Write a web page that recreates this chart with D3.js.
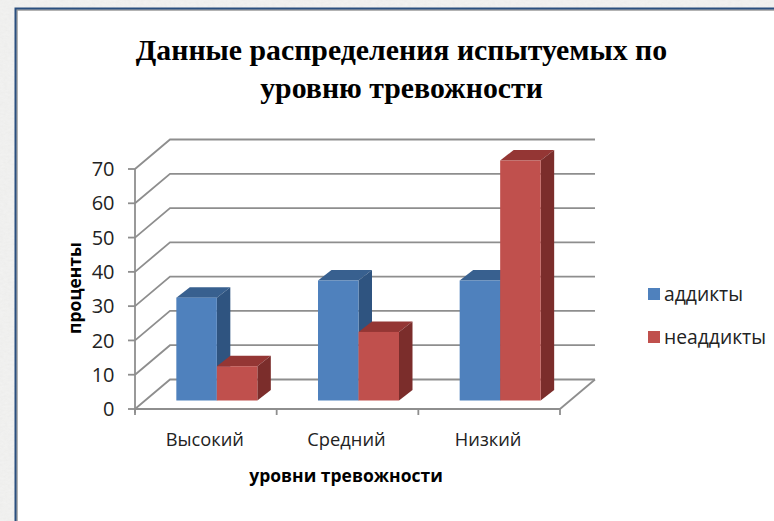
<!DOCTYPE html>
<html>
<head>
    <meta charset="utf-8">
    <script src="https://cdn.jsdelivr.net/npm/d3@7"></script>
    <style>
        html, body { margin: 0; padding: 0; background: #f1f1f0; overflow: hidden; }
        text { fill: #222; }
    </style>
</head>
<body>
<svg id="chart" width="774" height="521"></svg>
<script>
var categories = ['Высокий', 'Средний', 'Низкий'];
var seriesNames = ['аддикты', 'неаддикты'];
var addicts = [30, 35, 35];
var nonAddicts = [10, 20, 70];
var yTicks = [0, 10, 20, 30, 40, 50, 60, 70];
var titleLines = ['Данные распределения испытуемых по', 'уровню тревожности'];

var faces = [
    { front: '#4f81bd', top: '#38608f', side: '#2f5480' },
    { front: '#c0504d', top: '#943634', side: '#7b2d2b' }
];

var svg = d3.select('#chart');

// paper texture behind the frame
var noise = svg.append('defs').append('filter').attr('id', 'paper');
noise.append('feTurbulence').attr('type', 'fractalNoise').attr('baseFrequency', '0.25 0.5').attr('numOctaves', 3).attr('seed', 4);
noise.append('feColorMatrix').attr('values', '0 0 0 0 0.62  0 0 0 0 0.62  0 0 0 0 0.6  0.35 0 0 0 0');
svg.append('rect').attr('width', 774).attr('height', 521).attr('fill', '#f3f3f2');
svg.append('rect').attr('width', 774).attr('height', 521).attr('filter', 'url(#paper)').attr('opacity', 0.55);

// frame
svg.append('rect').attr('x', 17).attr('y', 10).attr('width', 770).attr('height', 520)
    .attr('fill', '#fff').attr('stroke', '#9a9a9a').attr('stroke-width', 1.5);
svg.append('rect').attr('x', 15.5).attr('y', 8.5).attr('width', 770).attr('height', 520)
    .attr('fill', 'none').attr('stroke', '#2a4f7f').attr('stroke-width', 2);

// front plane scales, the back wall is the front plane shifted by depth
var x = d3.scaleBand().domain(categories).range([135, 560]);
var y = d3.scaleLinear().domain([0, 70]).range([409, 169]);
var depth = { x: 35, y: -29.5 };
var barOffset = { x: 11, y: -8.5 };
var barDepth = { x: 13.5, y: -10.5 };
var barWidth = 40.5;
var gridColor = '#8e8e8e';

var grid = svg.append('g').attr('fill', 'none').attr('stroke', gridColor).attr('stroke-width', 1.8);
grid.selectAll('path').data(yTicks).enter().append('path')
    .attr('d', function(d) {
        var p = d3.path();
        p.moveTo(x.range()[0], y(d));
        p.lineTo(x.range()[0] + depth.x, y(d) + depth.y);
        p.lineTo(x.range()[1] + depth.x, y(d) + depth.y);
        return p.toString();
    });
// right edge of the floor
grid.append('path').attr('d', function() {
    var p = d3.path();
    p.moveTo(x.range()[1], y(0));
    p.lineTo(x.range()[1] + depth.x, y(0) + depth.y);
    return p.toString();
});

// axes
var axisG = svg.append('g').attr('fill', 'none').attr('stroke', gridColor).attr('stroke-width', 1.8);
axisG.append('path').attr('d', 'M' + x.range()[0] + ',' + y(70) + 'V' + (y(0) + 4));
axisG.append('path').attr('d', 'M' + x.range()[0] + ',' + y(0) + 'H' + x.range()[1]);
axisG.selectAll('.ytick').data(yTicks).enter().append('path')
    .attr('d', function(d) { return 'M' + (x.range()[0] - 7) + ',' + y(d) + 'H' + x.range()[0]; });
axisG.selectAll('.xtick').data(d3.range(categories.length + 1)).enter().append('path')
    .attr('d', function(i) {
        var tx = x.range()[0] + i * x.bandwidth();
        return 'M' + tx + ',' + y(0) + 'v6';
    });

svg.append('g').selectAll('text').data(yTicks).enter().append('text')
    .attr('x', 114.5).attr('y', function(d) { return y(d); })
    .attr('dy', '0.36em').attr('text-anchor', 'end')
    .style('font', '20px "Open Sans"').text(function(d) { return d; });

svg.append('g').selectAll('text').data(categories).enter().append('text')
    .attr('x', function(d) { return x(d) + x.bandwidth() / 2 - 1; }).attr('y', 446)
    .attr('text-anchor', 'middle')
    .style('font', '18.3px "Open Sans"').text(function(d) { return d; });

// bars, drawn in series order so red covers the blue side
var series = [addicts, nonAddicts];
categories.forEach(function(cat, ci) {
    var pad = (x.bandwidth() - 2 * barWidth) / 2;
    series.forEach(function(values, si) {
        var v = values[ci];
        var x0 = x(cat) + pad + barOffset.x + si * barWidth;
        var x1 = x0 + barWidth;
        var yTop = y(v) + barOffset.y;
        var yBase = y(0) + barOffset.y;
        var g = svg.append('g');
        g.append('path').attr('fill', faces[si].top)
            .attr('d', d3.line()([[x0, yTop], [x0 + barDepth.x, yTop + barDepth.y], [x1 + barDepth.x, yTop + barDepth.y], [x1, yTop]]) + 'Z');
        g.append('path').attr('fill', faces[si].side)
            .attr('d', d3.line()([[x1, yTop], [x1 + barDepth.x, yTop + barDepth.y], [x1 + barDepth.x, yBase + barDepth.y], [x1, yBase]]) + 'Z');
        g.append('rect').attr('x', x0).attr('y', yTop).attr('width', barWidth).attr('height', yBase - yTop)
            .attr('fill', faces[si].front);
    });
});

// titles
svg.append('g').selectAll('text').data(titleLines).enter().append('text')
    .attr('x', 401.5).attr('y', function(d, i) { return 60 + i * 38; })
    .attr('text-anchor', 'middle')
    .style('font', 'bold 29.8px "Liberation Serif"').style('fill', '#000').text(function(d) { return d; });

svg.append('text').attr('transform', 'translate(81,288) rotate(-90)')
    .attr('text-anchor', 'middle').style('font', 'bold 17.5px "Open Sans"').style('fill', '#000').text('проценты');
svg.append('text').attr('x', 346).attr('y', 482)
    .attr('text-anchor', 'middle').style('font', 'bold 17.5px "Open Sans"').style('fill', '#000').text('уровни тревожности');

// legend
var legend = svg.append('g').selectAll('g').data(seriesNames).enter().append('g')
    .attr('transform', function(d, i) { return 'translate(648,' + (288 + i * 43) + ')'; });
legend.append('rect').attr('width', 12).attr('height', 12)
    .attr('fill', function(d, i) { return faces[i].front; });
legend.append('text').attr('x', 16).attr('y', 6).attr('dy', '0.35em')
    .style('font', '19.3px "Open Sans"').text(function(d) { return d; });
</script>
</body>
</html>
